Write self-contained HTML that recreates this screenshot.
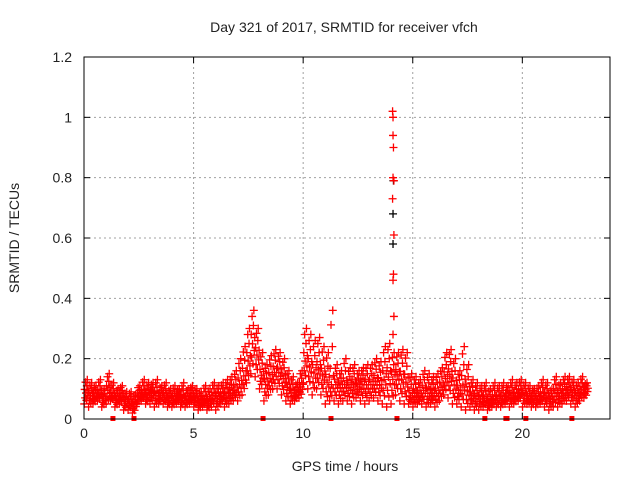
<!DOCTYPE html>
<html><head><meta charset="utf-8"><style>
html,body{margin:0;padding:0;background:#fff;}
svg{display:block;font-family:"Liberation Sans",sans-serif;}
</style></head><body>
<svg id="chart" width="640" height="480">
<rect x="0" y="0" width="640" height="480" fill="#fff"/>
<text x="344" y="32" text-anchor="middle" font-size="14" fill="#222">Day 321 of 2017, SRMTID for receiver vfch</text>
<text x="345" y="471" text-anchor="middle" font-size="14" fill="#222">GPS time / hours</text>
<text transform="translate(19,238) rotate(-90)" text-anchor="middle" font-size="14" fill="#222">SRMTID / TECUs</text>
<g id="grid"></g>
<g id="marks"></g>
<g id="axes"></g>
</svg>
<script>
const xTicks=[0,5,10,15,20];
const yTicks=[0,0.2,0.4,0.6,0.8,1,1.2];
const yTickLabels=["0","0.2","0.4","0.6","0.8","1","1.2"];
const binStart=0, binStep=0.2;
const hiVals=[.13,.12,.11,.13,.10, .15,.12,.10,.11,.09, .09,.08,.11,.13,.12, .12,.13,.11,.12,.10, .11,.10,.12,.10,.11, .10,.09,.11,.10,.12, .11,.12,.13,.14,.16, .20,.24,.30,.36,.30, .22,.18,.21,.23,.22, .20,.16,.14,.12,.16, .30,.28,.26,.27,.24, .22,.36,.18,.16,.20, .17,.18,.16,.17,.18, .18,.20,.19,.24,.25, .22,.22,.23,.22,.15, .14,.13,.16,.15,.14, .15,.17,.22,.23,.20, .16,.24,.18,.13,.12, .11,.12,.10,.12,.11, .12,.11,.13,.12,.13, .12,.11,.10,.11,.13, .12,.10,.14,.12,.14, .14,.13,.12,.14,.12];
const midVals=[.09,.08,.08,.09,.07, .10,.08,.07,.08,.06, .06,.05,.08,.09,.08, .09,.08,.08,.08,.07, .07,.08,.07,.07,.08, .07,.06,.07,.06,.08, .07,.08,.08,.09,.10, .12,.15,.20,.26,.22, .15,.12,.14,.16,.16, .14,.11,.09,.09,.11, .20,.18,.16,.17,.15, .13,.12,.12,.11,.12, .11,.12,.11,.12,.12, .12,.13,.12,.14,.15, .14,.15,.14,.13,.08, .09,.08,.10,.09,.09, .09,.11,.14,.15,.12, .10,.12,.10,.08,.07, .07,.07,.06,.07,.07, .07,.08,.08,.08,.09, .08,.07,.07,.07,.08, .08,.07,.09,.08,.09, .10,.09,.08,.10,.10];
const loVals=[.05,.04,.05,.06,.04, .05,.06,.04,.05,.03, .03,.02,.05,.06,.05, .05,.04,.05,.05,.04, .04,.05,.04,.04,.05, .04,.03,.04,.03,.04, .03,.05,.04,.05,.06, .06,.08,.12,.15,.14, .10,.06,.08,.10,.10, .08,.06,.05,.06,.07, .12,.10,.08,.10,.08, .05,.06,.06,.05,.06, .06,.05,.07,.06,.05, .06,.07,.06,.05,.04, .05,.08,.06,.05,.05, .04,.05,.05,.04,.05, .04,.06,.08,.07,.05, .05,.04,.03,.04,.03, .03,.04,.03,.04,.04, .04,.05,.04,.05,.06, .04,.05,.04,.04,.05, .04,.03,.04,.04,.05, .06,.05,.04,.06,.07];
const spikeTimes=[14.08,14.1,14.1,14.12,14.1,14.14,14.08,14.1,14.14,14.12,14.12,14.1,14.14,14.1];
const spikeVals=[1.02,1.0,0.94,0.9,0.8,0.79,0.73,0.68,0.61,0.58,0.48,0.46,0.34,0.28];
const blackTimes=[14.1,14.1,14.12];
const blackVals=[0.68,0.58,0.79];
const gapTimes=[1.32,2.28,8.17,11.27,14.28,18.29,19.25,19.3,20.16,22.26];

const X0=84,X1=610,Y0=419,Y1=57,XMAX=24,YMAX=1.2;
const xs=v=>X0+(X1-X0)*v/XMAX;
const ys=v=>Y0-(Y0-Y1)*v/YMAX;
const NS="http://www.w3.org/2000/svg";
function mk(tag,attrs,parent){const e=document.createElementNS(NS,tag);for(const k in attrs)e.setAttribute(k,attrs[k]);parent.appendChild(e);return e;}
const grid=document.getElementById('grid'),marks=document.getElementById('marks'),axes=document.getElementById('axes');
xTicks.forEach(t=>{
  if(t>0){const l=mk('line',{x1:xs(t),x2:xs(t),y1:Y1,y2:Y0,stroke:'#a0a0a0','stroke-dasharray':'2,3'},grid);
  
  }
  const tl=mk('text',{x:xs(t),y:Y0+19,'text-anchor':'middle','font-size':'14',fill:'#222'},axes);tl.textContent=t;
  
  
  mk('line',{x1:xs(t),x2:xs(t),y1:Y0,y2:Y0-6,stroke:'#000'},axes);
  mk('line',{x1:xs(t),x2:xs(t),y1:Y1,y2:Y1+6,stroke:'#000'},axes);
});
yTicks.forEach((t,i)=>{
  if(t>0&&t<YMAX){const l=mk('line',{x1:X0,x2:X1,y1:ys(t),y2:ys(t),stroke:'#a0a0a0','stroke-dasharray':'2,3'},grid);
  
  }
  const tl=mk('text',{x:X0-12,y:ys(t)+5,'text-anchor':'end','font-size':'14',fill:'#222'},axes);tl.textContent=yTickLabels[i];
  
  
  mk('line',{x1:X0,x2:X0+6,y1:ys(t),y2:ys(t),stroke:'#000'},axes);
  mk('line',{x1:X1,x2:X1-6,y1:ys(t),y2:ys(t),stroke:'#000'},axes);
});
function plus(t,v,color){
  const x=xs(t),y=ys(v);
  const p=mk('path',{d:`M${x-4},${y}H${x+4}M${x},${y-4}V${y+4}`,stroke:color,'stroke-width':'1.3',fill:'none'},marks);
  
  
}
const fracs=[0,0.6,0.25,0.9,0.45,0.15,0.75,1,0.35,0.55];
const offs=[0.01,0.03,0.05,0.07,0.09,0.11,0.13,0.15,0.17,0.19];
blackTimes.forEach((t,i)=>plus(t,blackVals[i],'#000'));
hiVals.forEach((h,i)=>{
  const t=binStart+i*binStep,m=midVals[i],l=loVals[i];
  fracs.forEach((f,j)=>{
    const v=f<0.5? l+(m-l)*f*2 : m+(h-m)*(f-0.5)*2;
    plus(t+offs[j],v,'#f00');
  });
});
spikeTimes.forEach((t,i)=>{if(spikeVals[i]!==0.68&&spikeVals[i]!==0.58)plus(t,spikeVals[i],'#f00');});
gapTimes.forEach(t=>{
  const r=mk('rect',{x:xs(t)-2.5,y:Y0-3,width:5,height:5,fill:'#f00'},marks);
  
  
});
const b=mk('rect',{x:X0,y:Y1,width:X1-X0,height:Y0-Y1,fill:'none',stroke:'#000','stroke-width':'1'},axes);


</script>
</body></html>
